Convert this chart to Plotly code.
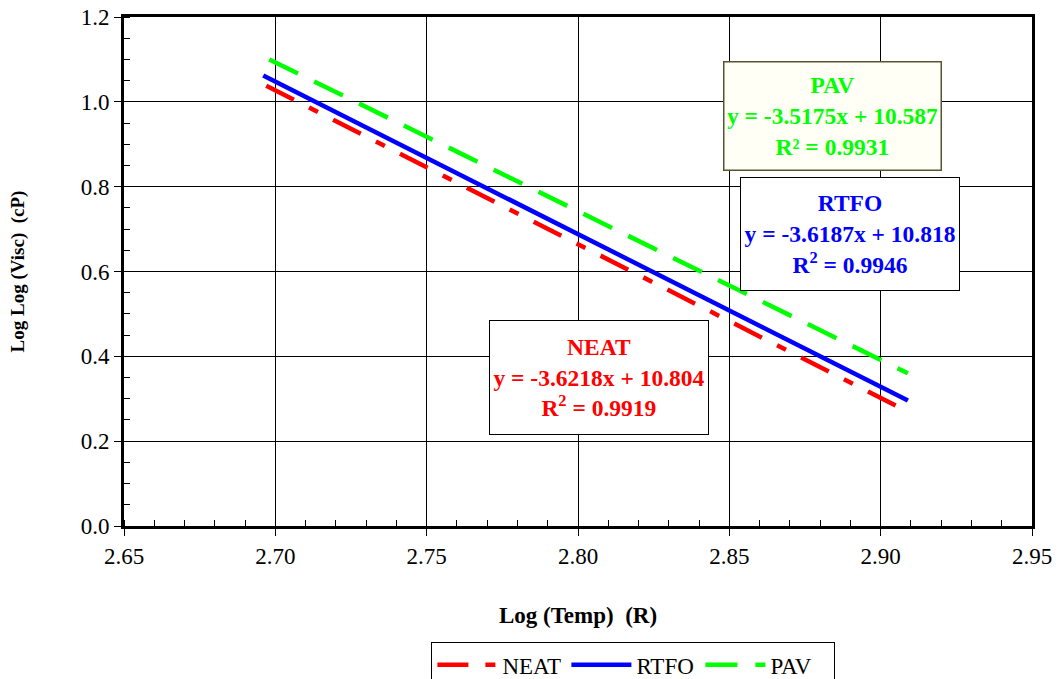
import plotly.graph_objects as go

# Trend-line endpoints
series_names = ["NEAT", "RTFO", "PAV"]
neat_x = [2.697, 2.906]
neat_y = [1.038, 0.280]
rtfo_x = [2.696, 2.909]
rtfo_y = [1.062, 0.296]
pav_x = [2.698, 2.909]
pav_y = [1.100, 0.360]

x_ticks = [2.65, 2.70, 2.75, 2.80, 2.85, 2.90, 2.95]
x_tick_labels = ["2.65", "2.70", "2.75", "2.80", "2.85", "2.90", "2.95"]
y_ticks = [0.0, 0.2, 0.4, 0.6, 0.8, 1.0, 1.2]
y_tick_labels = ["0.0", "0.2", "0.4", "0.6", "0.8", "1.0", "1.2"]

FONT = "Liberation Serif"
REG_FONT = "Times New Roman, Liberation Serif, serif"

fig = go.Figure()
fig.add_trace(go.Scatter(x=neat_x, y=neat_y, mode="lines", name=series_names[0],
                         line=dict(color="#ff0000", width=4.5, dash="31px,17px,10px,17px")))
fig.add_trace(go.Scatter(x=rtfo_x, y=rtfo_y, mode="lines", name=series_names[1],
                         line=dict(color="#0000ff", width=4.5)))
fig.add_trace(go.Scatter(x=pav_x, y=pav_y, mode="lines", name=series_names[2],
                         line=dict(color="#00ff00", width=4.5, dash="32px,18px")))

ann_font = dict(family=FONT, size=23.5)
fig.add_annotation(x=2.884, y=0.967, xref="x", yref="y", showarrow=False,
                   text="<b>PAV<br>y = -3.5175x + 10.587<br>R² = 0.9931</b>",
                   font=dict(color="#00ff00", **ann_font), align="center",
                   width=210, height=101, borderpad=3, borderwidth=1.5,
                   bordercolor="#555533", bgcolor="#fffff6")
fig.add_annotation(x=2.890, y=0.689, xref="x", yref="y", showarrow=False,
                   text="<b>RTFO<br>y = -3.6187x + 10.818<br>R<sup>2</sup> = 0.9946</b>",
                   font=dict(color="#0000ff", **ann_font), align="center",
                   width=212, height=106, borderpad=3, borderwidth=1,
                   bordercolor="#000000", bgcolor="#ffffff")
fig.add_annotation(x=2.807, y=0.349, xref="x", yref="y", showarrow=False,
                   text="<b>NEAT<br>y = -3.6218x + 10.804<br>R<sup>2</sup> = 0.9919</b>",
                   font=dict(color="#ff0000", **ann_font), align="center",
                   width=212, height=107, borderpad=3, borderwidth=1,
                   bordercolor="#000000", bgcolor="#ffffff")

fig.update_xaxes(range=[2.65, 2.95], tickvals=x_ticks, ticktext=x_tick_labels,
                 automargin=False,
                 showline=True, linewidth=3, linecolor="black", mirror=True,
                 showgrid=True, gridcolor="black", gridwidth=1, zeroline=False,
                 ticks="outside", ticklen=7, tickwidth=1, tickcolor="black",
                 minor=dict(dtick=0.01, ticks="inside", ticklen=6, tickcolor="black", showgrid=False),
                 tickfont=dict(family=REG_FONT, size=23, color="black"),
                 title=dict(text="<b>Log (Temp)  (R)</b>", font=dict(family=FONT, size=23, color="black"),
                            standoff=40))
fig.update_yaxes(range=[0, 1.2], tickvals=y_ticks, ticktext=y_tick_labels,
                 automargin=False,
                 showline=True, linewidth=3, linecolor="black", mirror=True,
                 showgrid=True, gridcolor="black", gridwidth=1, zeroline=False,
                 ticks="outside", ticklen=7, tickwidth=1, tickcolor="black",
                 minor=dict(dtick=0.05, ticks="inside", ticklen=6, tickcolor="black", showgrid=False),
                 tickfont=dict(family=REG_FONT, size=23, color="black"),
                 title=dict(text="<b>Log Log (Visc)  (cP)</b>", font=dict(family=FONT, size=19, color="black"),
                            standoff=52))

fig.update_layout(
    width=1058, height=679,
    margin=dict(l=124, r=26, t=17, b=153),
    paper_bgcolor="white", plot_bgcolor="white",
    font=dict(family=REG_FONT),
    showlegend=True,
    legend=dict(orientation="h", x=0.561, xanchor="center", xref="paper",
                y=0.054, yanchor="top", yref="container",
                bordercolor="black", borderwidth=1, bgcolor="white",
                font=dict(family=REG_FONT, size=23, color="black"),
                itemwidth=60, entrywidth=59, traceorder="normal"),
)

fig.write_html("out.html")
